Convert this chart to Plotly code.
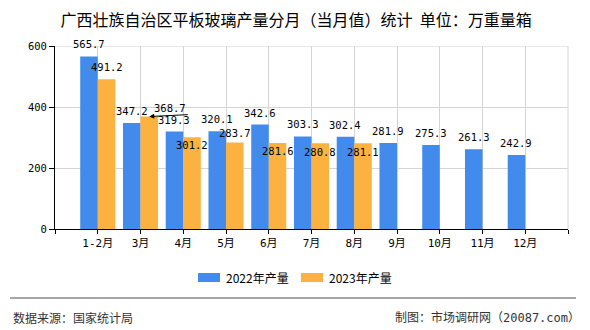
import plotly.graph_objects as go

# ---- data ----
categories = ["1-2月", "3月", "4月", "5月", "6月", "7月", "8月", "9月", "10月", "11月", "12月"]
values_2022 = [565.7, 347.2, 319.3, 320.1, 342.6, 303.3, 302.4, 281.9, 275.3, 261.3, 242.9]
values_2023 = [491.2, 368.7, 301.2, 283.7, 281.6, 280.8, 281.1]
series_names = ["2022年产量", "2023年产量"]
y_ticks = [0, 200, 400, 600]

# ---- style ----
W, H = 590, 330
ML, MR, MT, MB = 55, 22, 46, 101
BLUE = "#428BEC"
ORANGE = "#FBB241"
GRID = "#D4D4D4"
MONO = "DejaVu Sans Mono, Noto Sans CJK SC"
CJK = "Noto Sans CJK SC"
BARGAP = 0.18
HALF = (1 - BARGAP) / 4  # offset of each bar centre within a group

PW = W - ML - MR
PH = H - MT - MB


def px_x(x):
    return (x - ML) / PW


def px_y(y):
    return (H - MB - y) / PH


x22 = list(range(len(values_2022)))
x23 = list(range(len(values_2023)))

fig = go.Figure()
fig.add_trace(go.Bar(x=x22, y=values_2022, name=series_names[0], marker_color=BLUE,
                     marker_line_width=0, showlegend=False))
fig.add_trace(go.Bar(x=x23, y=values_2023, name=series_names[1], marker_color=ORANGE,
                     marker_line_width=0, showlegend=False))

annotations = []
lab_font = dict(family=MONO, size=10.5, color="#000")

# value labels (label placement style: pixel shift of label centre from bar top)
shift_2022 = [10] * len(values_2022)
shift_2023 = [12.5, None, -8, 9, -8, -9, -9]

for i, v in enumerate(values_2022):
    annotations.append(dict(x=i - HALF, y=v, xref="x", yref="y", text=f"{v:.1f}",
                            showarrow=False, yanchor="middle", yshift=shift_2022[i] + 2,
                            font=lab_font))
for i, v in enumerate(values_2023):
    if shift_2023[i] is None:
        # label moved to the right with a leader arrow
        annotations.append(dict(x=i + HALF, y=v, xref="x", yref="y", text=f"{v:.1f}",
                                showarrow=False, yanchor="middle", xshift=21, yshift=9,
                                font=lab_font))
        annotations.append(dict(x=i + HALF, y=v, xref="x", yref="y", text="",
                                showarrow=True, arrowhead=2, arrowsize=1, arrowwidth=1,
                                arrowcolor="#000", ax=40, ay=-2, axref="pixel", ayref="pixel"))
        continue
    annotations.append(dict(x=i + HALF, y=v, xref="x", yref="y", text=f"{v:.1f}",
                            showarrow=False, yanchor="middle", yshift=shift_2023[i],
                            font=lab_font))

# manual legend
legend_items = [(series_names[0], BLUE, 198), (series_names[1], ORANGE, 301)]
shapes = []
for name, col, x0 in legend_items:
    shapes.append(dict(type="rect", xref="paper", yref="paper",
                       x0=px_x(x0), x1=px_x(x0 + 22), y0=px_y(282), y1=px_y(273),
                       fillcolor=col, line_width=0))
    annotations.append(dict(x=px_x(x0 + 26), y=px_y(277.5), xref="paper", yref="paper",
                            text=name, showarrow=False, xanchor="left", yanchor="middle",
                            font=dict(family=CJK, size=12, color="#000")))

# right border and top line of plot area
shapes.append(dict(type="line", xref="paper", yref="paper", x0=1, x1=1, y0=0, y1=1,
                   line=dict(color=GRID, width=1)))
shapes.append(dict(type="line", xref="paper", yref="y", x0=0, x1=1, y0=600, y1=600,
                   line=dict(color=GRID, width=1), layer="below"))

# footer separator
shapes.append(dict(type="line", xref="paper", yref="paper",
                   x0=px_x(10), x1=px_x(576), y0=px_y(298), y1=px_y(298),
                   line=dict(color="#888", width=1.5)))

annotations.append(dict(x=px_x(11), y=px_y(317), xref="paper", yref="paper",
                        text="数据来源：国家统计局", showarrow=False, xanchor="left",
                        yanchor="middle", font=dict(family=CJK, size=12, color="#333")))
annotations.append(dict(x=px_x(582), y=px_y(317), xref="paper", yref="paper",
                        text="制图：市场调研网（20087.com）", showarrow=False, xanchor="right",
                        yanchor="middle", font=dict(family=MONO, size=12, color="#333")))

tickvals = list(range(-1, len(categories) + 1))
ticktext = [""] + categories + [""]

fig.update_layout(
    width=W, height=H, autosize=False,
    margin=dict(l=ML, r=MR, t=MT, b=MB, pad=0),
    paper_bgcolor="#fff", plot_bgcolor="#fff",
    barmode="group", bargap=BARGAP, bargroupgap=0,
    showlegend=False,
    title=dict(text="广西壮族自治区平板玻璃产量分月（当月值）统计  单位：万重量箱",
               xref="container", yref="container", x=0.502, y=1 - 20 / H,
               xanchor="center", yanchor="middle",
               font=dict(family=CJK, size=16, color="#000")),
    xaxis=dict(range=[-1, len(categories)], tickmode="array", tickvals=tickvals,
               ticktext=ticktext, showgrid=True, gridcolor=GRID, gridwidth=1,
               showline=True, linecolor="#000", linewidth=1, ticks="outside",
               ticklen=4, tickcolor="#000", zeroline=False,
               tickfont=dict(family=MONO, size=11, color="#000")),
    yaxis=dict(range=[0, 600], tickmode="array", tickvals=y_ticks, showgrid=True,
               gridcolor=GRID, gridwidth=1, showline=True, linecolor="#000",
               linewidth=1, ticks="outside", ticklen=5, tickcolor="#000",
               zeroline=False, tickfont=dict(family=MONO, size=10.5, color="#000")),
    annotations=annotations,
    shapes=shapes,
)

fig.write_html("out.html")
